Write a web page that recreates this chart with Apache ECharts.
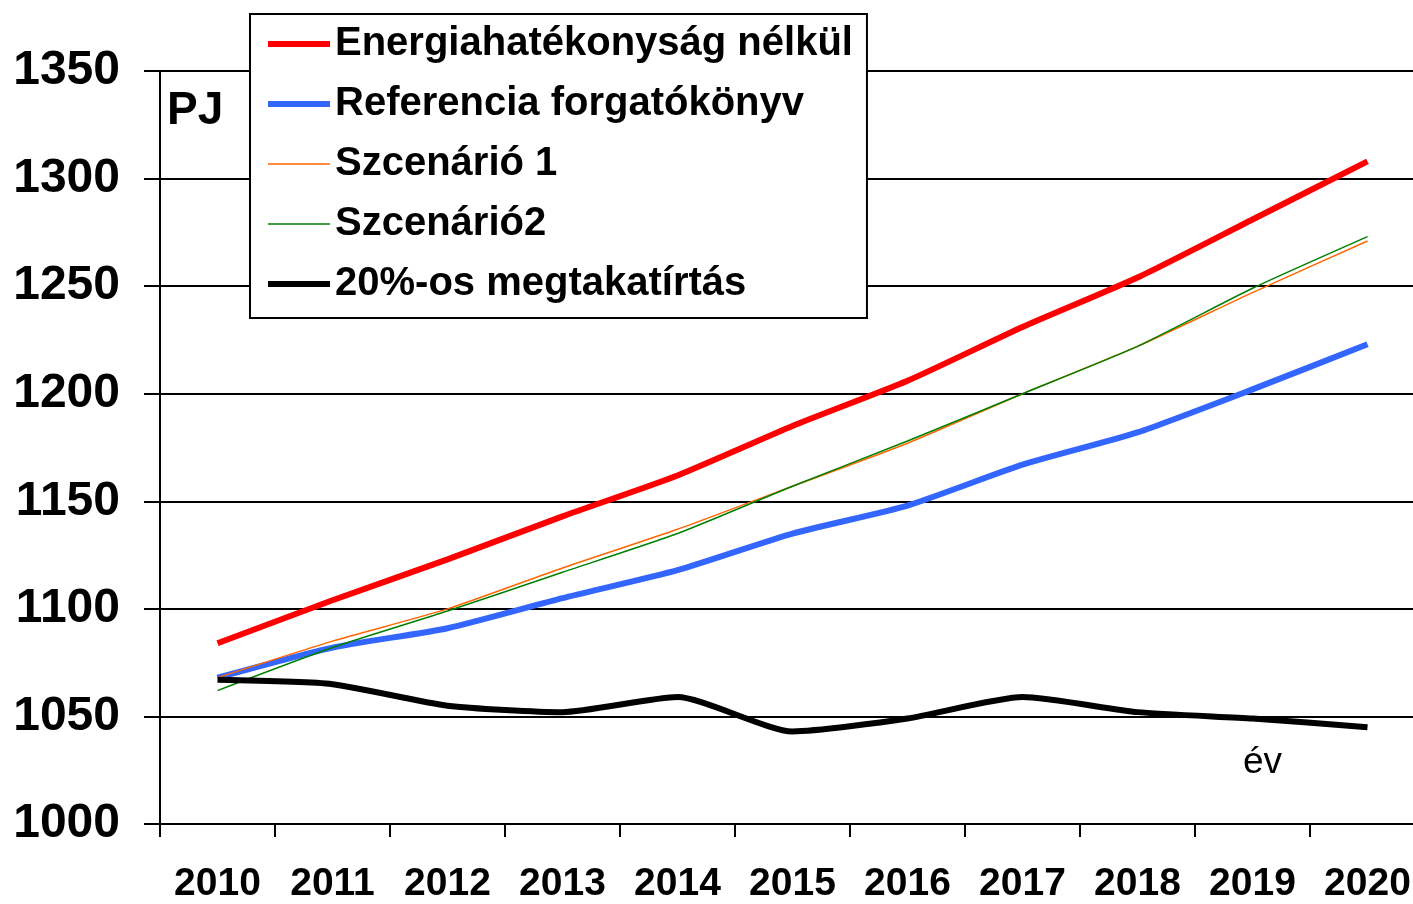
<!DOCTYPE html>
<html>
<head>
<meta charset="utf-8">
<script src="https://cdn.jsdelivr.net/npm/echarts@6/dist/echarts.min.js"></script>
<style>
html,body{margin:0;padding:0;background:#fff;overflow:hidden;}
#chart{width:1425px;height:904px;}
</style>
</head>
<body>
<div id="chart"></div>
<script>
const years = ['2010','2011','2012','2013','2014','2015','2016','2017','2018','2019','2020'];
const seriesNames = ['Energiahatékonyság nélkül','Referencia forgatókönyv','Szcenárió 1','Szcenárió2','20%-os megtakatírtás'];
const noEfficiency = [1084, 1104, 1123, 1143, 1162, 1185, 1206, 1231, 1254, 1281, 1308];
const reference    = [1068, 1082, 1091, 1105, 1118, 1135, 1148, 1167, 1182, 1202, 1223];
const scenario1    = [1068, 1085, 1100, 1119, 1137, 1157, 1177, 1200, 1222, 1247, 1271];
const scenario2    = [1062, 1082, 1099, 1117, 1135, 1157, 1178, 1200, 1222, 1249, 1273];
const saving20     = [1067, 1065, 1055, 1052, 1059, 1043, 1049, 1059, 1052, 1049, 1045];
const yMin = 1000, yMax = 1350, yStep = 50;

const font = '"Liberation Sans", Arial, sans-serif';
const colors = ['#FF0000', '#3366FF', '#FF6600', '#008000', '#000000'];
const widths = [6, 6, 1.5, 1.5, 6];
const chart = echarts.init(document.getElementById('chart'));

function line(i, data) {
  return {
    name: seriesNames[i], type: 'line', data: data, symbol: 'none', smooth: 0.2,
    lineStyle: { color: colors[i], width: widths[i] }, itemStyle: { color: colors[i] },
    emphasis: { disabled: true }, animation: false
  };
}

function legendItem(i) {
  const h = widths[i];
  return {
    name: seriesNames[i],
    icon: 'path://M0,0 L62,0 L62,' + h + ' L0,' + h + ' Z',
    itemStyle: { color: colors[i], borderWidth: 0 }
  };
}

chart.setOption({
  animation: false,
  backgroundColor: '#ffffff',
  grid: { left: 160, right: 0, top: 71, bottom: 79, containLabel: false },
  legend: {
    orient: 'vertical', left: 250, top: 14,
    padding: [10, 14, 14, 18],
    itemWidth: 62, itemHeight: 14, itemGap: 20, itemTextGap: 8,
    symbolKeepAspect: true,
    backgroundColor: '#ffffff', borderColor: '#000000', borderWidth: 2,
    textStyle: { fontFamily: font, fontSize: 40, fontWeight: 'bold', color: '#000', lineHeight: 40 },
    data: [0, 1, 2, 3, 4].map(legendItem),
    selectedMode: false
  },
  xAxis: {
    type: 'category', data: years, boundaryGap: true,
    axisLine: { show: true, lineStyle: { color: '#000', width: 2 } },
    axisTick: { show: true, length: 13, lineStyle: { color: '#000', width: 2 } },
    axisLabel: { fontFamily: font, fontSize: 39, fontWeight: 'bold', color: '#000', margin: 41 },
    splitLine: { show: false }
  },
  yAxis: {
    type: 'value', min: yMin, max: yMax, interval: yStep,
    axisLine: { show: true, lineStyle: { color: '#000', width: 2 } },
    axisTick: { show: true, length: 16, lineStyle: { color: '#000', width: 2 } },
    axisLabel: { fontFamily: font, fontSize: 48, fontWeight: 'bold', color: '#000', margin: 40,
                 formatter: function (v) { return String(v); } },
    splitLine: { show: true, lineStyle: { color: '#000', width: 2 } }
  },
  graphic: [
    { type: 'text', left: 167, top: 88, style: { text: 'PJ', fontFamily: font, fontSize: 46, fontWeight: 'bold', fill: '#000' } },
    { type: 'text', left: 1243, top: 744, style: { text: 'év', fontFamily: font, fontSize: 37, fontWeight: 'normal', fill: '#000' } }
  ],
  series: [
    line(0, noEfficiency),
    line(1, reference),
    line(2, scenario1),
    line(3, scenario2),
    line(4, saving20)
  ]
});
</script>
</body>
</html>
